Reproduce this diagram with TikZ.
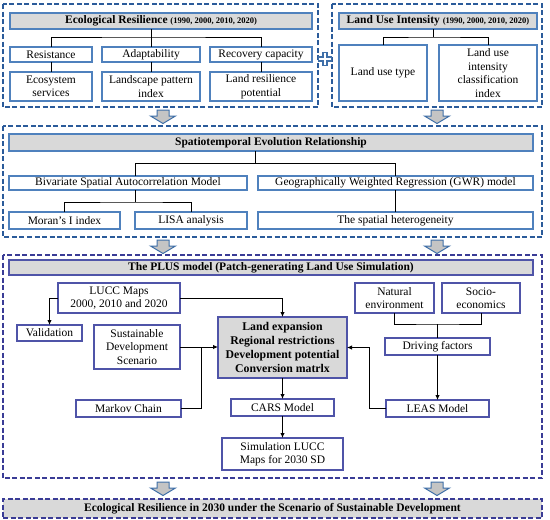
\documentclass[tikz,border=0pt]{standalone}
\usepackage{fontspec}
\setmainfont{Liberation Serif}
\usetikzlibrary{arrows.meta}
\definecolor{bbord}{HTML}{4F81BD}
\definecolor{pbord}{HTML}{4F54A8}
\definecolor{dashb}{HTML}{2B5B9A}
\definecolor{dashp}{HTML}{3A3C96}
\definecolor{gfill}{HTML}{D9D9D9}
\definecolor{afill}{HTML}{C4C4C4}
\definecolor{aline}{HTML}{3F6FA8}
\newcommand\bx[7][]{\pgfmathsetmacro\myBW{#5-#3}\pgfmathsetmacro\myBH{#6-#4}%
  \node[#1,minimum width=\myBW pt,minimum height=\myBH pt] (#2) at ({(#3+#5)/2},{(#4+#6)/2}) {#7};}
\newcommand\blockarrow[2]{\draw[barrow] (#1-6,#2) -- (#1+6,#2) -- (#1+6,#2+6) -- (#1+12.5,#2+6) -- (#1,#2+13.5) -- (#1-12.5,#2+6) -- (#1-6,#2+6) -- cycle;}
\tikzset{
  base/.style={inner sep=0pt,outer sep=0pt,align=center,font=\fontsize{11.5}{13.5}\selectfont,text=black},
  bbox/.style={base,draw=bbord,line width=1.1pt,fill=white},
  hbox/.style={bbox,fill=gfill,font=\fontsize{11.5}{13.5}\selectfont\bfseries},
  pbox/.style={base,draw=pbord,line width=1.1pt,fill=white},
  corebox/.style={pbox,fill=gfill,font=\fontsize{11.8}{13.7}\selectfont\bfseries},
  phbox/.style={pbox,fill=gfill,font=\fontsize{11.5}{13.5}\selectfont\bfseries},
  secdash/.style={draw=dashb,line width=1.5pt,dash pattern=on 5pt off 2.5pt},
  secdashp/.style={draw=dashp,line width=1.5pt,dash pattern=on 5pt off 2.5pt},
  tree/.style={draw=black,line width=0.9pt},
  arr/.style={tree,-{Latex[length=5pt,width=4.5pt]}},
  barrow/.style={draw=aline,fill=afill,line width=1pt,line join=miter},
}
\begin{document}
\begin{tikzpicture}[x=1pt,y=-1pt]
\useasboundingbox (0,0) rectangle (550,520);
% ---------- Section 1 ----------
\draw[secdash] (3,4) rectangle (318,107);
\draw[secdash] (332,4) rectangle (542,107);
\bx[hbox]{erh}{10}{13}{312}{29}{Ecological Resilience {\fontsize{8.5}{9}\selectfont (1990, 2000, 2010, 2020)}}
\bx[bbox]{res}{10}{47}{92}{62}{Resistance}
\bx[bbox]{ada}{102}{47}{200}{62}{Adaptability}
\bx[bbox]{rec}{210}{47}{312}{62}{Recovery capacity}
\bx[bbox]{eco}{10}{72}{92}{101}{Ecosystem\\services}
\bx[bbox]{lpi}{102}{72}{200}{101}{Landscape pattern\\index}
\bx[bbox]{lrp}{210}{72}{312}{101}{Land resilience\\potential}
\coordinate (c1) at (151,37);
\draw[tree] (res.north) |- (c1) -| (rec.north);
\draw[tree] (ada.north |- erh.south) -- (ada.north);
\draw[tree] (res.south) -- (eco.north);
\draw[tree] (ada.south) -- (lpi.north);
\draw[tree] (rec.south) -- (lrp.north);
\bx[hbox]{luih}{339}{13}{537}{29}{Land Use Intensity {\fontsize{8.5}{9}\selectfont (1990, 2000, 2010, 2020)}}
\bx[bbox]{lut}{339}{45}{427}{101}{Land use type}
\bx[bbox]{luc}{439}{45}{537}{101}{Land use\\intensity\\classification\\index}
\coordinate (c2) at (433,37);
\draw[tree] (c2 |- luih.south) -- (c2);
\draw[tree] (lut.north) |- (c2) -| (luc.north);
% plus sign
\draw[draw=aline,fill=white,line width=1.6pt,line join=miter] (322.8,52.5) -- (327.2,52.5) -- (327.2,56.8) -- (331.5,56.8) -- (331.5,61.2) -- (327.2,61.2) -- (327.2,65.5) -- (322.8,65.5) -- (322.8,61.2) -- (318.5,61.2) -- (318.5,56.8) -- (322.8,56.8) -- cycle;
\blockarrow{163}{110}
\blockarrow{437}{110}
% ---------- Section 2 ----------
\draw[secdash] (3,126) rectangle (542,237);
\bx[hbox]{ser}{9}{134}{533}{151}{Spatiotemporal Evolution Relationship}
\bx[bbox]{bsa}{9}{176}{247}{190}{Bivariate Spatial Autocorrelation Model}
\bx[bbox]{gwr}{258}{176}{533}{190}{Geographically Weighted Regression (GWR) model}
\bx[bbox]{mor}{9}{212}{120}{229}{Moran's I index}
\bx[bbox]{lisa}{135}{212}{247}{229}{LISA analysis}
\bx[bbox]{sph}{258}{212}{533}{229}{The spatial heterogeneity}
\coordinate (a1) at (135,163);
\coordinate (a2) at (395.5,163);
\coordinate (a3) at (255,163);
\draw[tree] (a1 |- bsa.north) -- (a1) -- (a2) -- (gwr.north);
\draw[tree] (a3 |- ser.south) -- (a3);
\coordinate (b1) at (135,202);
\draw[tree] (b1 |- bsa.south) -- (b1);
\draw[tree] (mor.north) |- (b1) -| (lisa.north);
\draw[tree] (gwr.south) -- (sph.north);
\blockarrow{163}{240}
\blockarrow{437}{240}
% ---------- Section 3 ----------
\draw[secdashp] (3,255) rectangle (542,478);
\bx[phbox]{plus}{9}{260}{533}{275}{The PLUS model (Patch-generating Land Use Simulation)}
\bx[pbox]{lucc}{58}{283}{180}{313}{LUCC Maps\\2000, 2010 and 2020}
\bx[pbox]{val}{17}{325}{82}{341}{Validation}
\bx[pbox]{sds}{94}{325}{180}{369}{Sustainable\\Development\\Scenario}
\bx[corebox]{core}{218}{317}{347}{378}{Land expansion\\Regional restrictions\\Development potential\\Conversion matrlx}
\bx[pbox]{mk}{76}{400}{181}{417}{Markov Chain}
\bx[pbox]{cars}{231}{399}{334}{416}{CARS Model}
\bx[pbox]{leas}{386}{400}{489}{417}{LEAS Model}
\bx[pbox]{sim}{222}{438}{343}{470}{Simulation LUCC\\Maps for 2030 SD}
\bx[pbox]{nat}{355}{283}{434}{313}{Natural\\environment}
\bx[pbox]{soc}{442}{283}{520}{313}{Socio-\\economics}
\bx[pbox]{drv}{385}{338}{490}{355}{Driving factors}
\draw[arr] (lucc.west) -| (val.north);
\draw[arr] (lucc.east) -| (core.north);
\draw[arr] (sds.east) -- (sds.east -| core.west);
\coordinate (j1) at (201,347);
\draw[tree] (mk.east) -| (j1);
\coordinate (j2) at (369,0);
\draw[arr] (leas.west) -| (j2 |- core.east) -- (core.east);
\draw[arr] (core.south) -- (cars.north);
\draw[arr] (cars.south) -- (sim.north);
\coordinate (d1) at (437.5,324);
\draw[tree] (nat.south) |- (d1) -| (soc.south);
\draw[tree] (d1) -- (drv.north);
\draw[arr] (drv.south) -- (leas.north);
\blockarrow{163}{482}
\blockarrow{437}{482}
% ---------- Bottom ----------
\bx[secdashp,fill=gfill,base,font=\fontsize{11.5}{13.5}\selectfont\bfseries]{final}{3}{499}{542}{518}{Ecological Resilience in 2030 under the Scenario of Sustainable Development}
\end{tikzpicture}
\end{document}
